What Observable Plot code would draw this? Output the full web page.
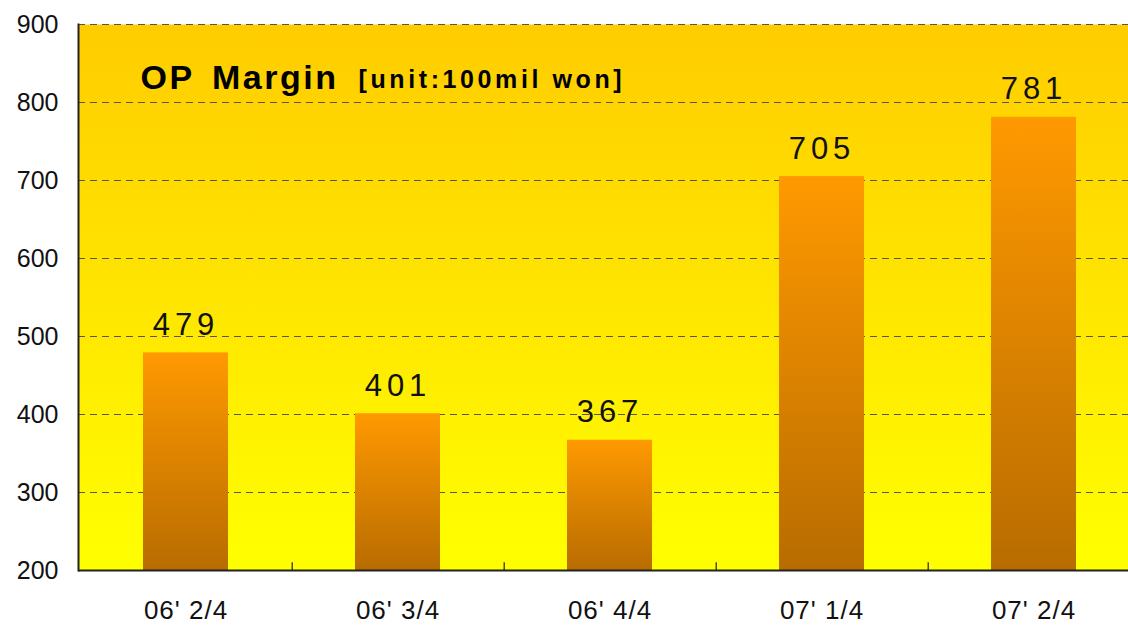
<!DOCTYPE html>
<html>
<head>
<meta charset="utf-8">
<script src="https://cdn.jsdelivr.net/npm/d3@7"></script>
<script src="https://cdn.jsdelivr.net/npm/@observablehq/plot@0.6"></script>
<style>
  html, body { margin: 0; padding: 0; background: #fff; overflow: hidden; }
  #chart svg { display: block; font-family: "Liberation Sans", Arial, sans-serif; }
</style>
</head>
<body>
<div id="chart"></div>
<script>
const categories = ["06' 2/4", "06' 3/4", "06' 4/4", "07' 1/4", "07' 2/4"];
const values = [479, 401, 367, 705, 781];
const yTicks = [200, 300, 400, 500, 600, 700, 800, 900];
const gridTicks = [300, 400, 500, 600, 700, 800, 900];
const titleMain = "OP Margin";
const titleUnit = "[unit:100mil won]";

const data = categories.map((c, i) => ({category: c, value: values[i]}));
const boundaries = categories.slice(0, 4);

const font = "'Liberation Sans', Arial, sans-serif";

const svg = Plot.plot({
  width: 1128,
  height: 633,
  marginLeft: 78,
  marginTop: 24,
  marginBottom: 63,
  marginRight: 0,
  style: {fontFamily: font, background: "transparent", overflow: "hidden"},
  x: {type: "band", domain: categories, range: [78, 1140], paddingInner: 0.6, paddingOuter: 0.3, label: null},
  y: {domain: [200, 900], range: [570, 24], label: null},
  marks: [
    Plot.frame({fill: "url(#bgGrad)", stroke: null}),
    Plot.gridY(gridTicks, {stroke: "#555", strokeOpacity: 1, strokeWidth: 1.2, strokeDasharray: "7,5"}),
    Plot.barY(data, {x: "category", y1: 200, y2: "value", fill: "url(#barGrad)"}),
    Plot.text(data, {x: "category", y: "value", text: d => String(d.value), dy: -18, lineAnchor: "bottom",
      fontSize: 31, fill: "#111"}),
    Plot.ruleX(boundaries, {x: d => d, dx: 106.2, y1: 200, y2: 210, stroke: "#222", strokeWidth: 1.2}),
    Plot.ruleY([200], {stroke: "#222", strokeWidth: 2}),
    Plot.frame({anchor: "left", stroke: "#222", strokeWidth: 2}),
    Plot.axisY(yTicks, {tickSize: 0, tickPadding: 20, fontSize: 25, fill: "#111", label: null}),
    Plot.axisX({tickSize: 0, tickPadding: 30, fontSize: 26, fill: "#111", label: null}),
    Plot.text([titleMain], {frameAnchor: "top-left", text: d => d, dx: 62, dy: 64, lineAnchor: "bottom",
      textAnchor: "start", fontSize: 34, fontWeight: "bold", fill: "#000"}),
    Plot.text([titleUnit], {frameAnchor: "top-left", text: d => d, dx: 280, dy: 63, lineAnchor: "bottom",
      textAnchor: "start", fontSize: 25, fontWeight: "bold", fill: "#000"})
  ]
});

const root = d3.select(svg);
const valueStrings = new Set(values.map(String));
root.selectAll("text").each(function() {
  const t = this.textContent;
  const s = d3.select(this);
  if (valueStrings.has(t) && !yTicks.map(String).includes(t)) s.style("letter-spacing", "5px");
  else if (t === titleMain) s.style("letter-spacing", "2.5px").style("word-spacing", "6px");
  else if (t === titleUnit) s.style("letter-spacing", "3.6px");
  else if (categories.includes(t)) s.style("letter-spacing", "1px");
});

const defs = root.insert("defs", ":first-child");
const bg = defs.append("linearGradient").attr("id", "bgGrad").attr("x1", 0).attr("y1", 0).attr("x2", 0).attr("y2", 1);
bg.append("stop").attr("offset", "0%").attr("stop-color", "#FFCC00");
bg.append("stop").attr("offset", "100%").attr("stop-color", "#FFFF00");
const bar = defs.append("linearGradient").attr("id", "barGrad").attr("x1", 0).attr("y1", 0).attr("x2", 0).attr("y2", 1);
bar.append("stop").attr("offset", "0%").attr("stop-color", "#FF9900");
bar.append("stop").attr("offset", "100%").attr("stop-color", "#B86C00");

document.getElementById("chart").appendChild(svg);
</script>
</body>
</html>
